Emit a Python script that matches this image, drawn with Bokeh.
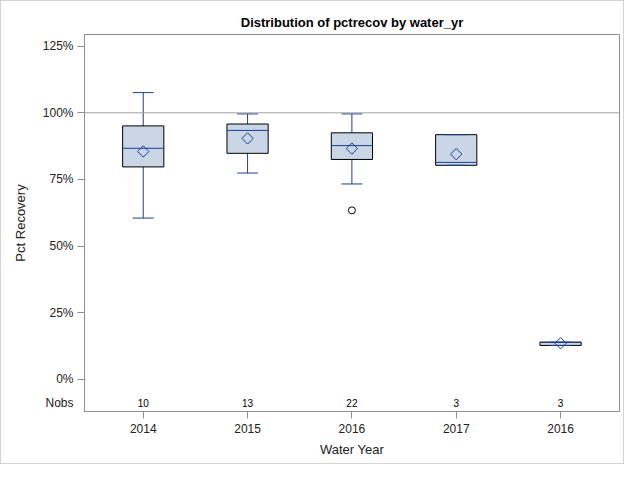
from bokeh.plotting import figure
from bokeh.models import (FixedTicker, Span, ColumnDataSource, PrintfTickFormatter,
                          Range1d, LinearAxis)
from bokeh.core.properties import value
from bokeh.embed import file_html
from bokeh.resources import INLINE
import numpy as np

# ---- data ----
positions = [1, 2, 3, 4, 5]
year_labels = ["2014", "2015", "2016", "2017", "2016"]
nobs = [10, 13, 22, 3, 3]
whisker_low = [60.5, 77.4, 73.3, 80.3, 12.7]
q1 = [79.7, 84.8, 82.5, 80.3, 12.7]
median = [86.7, 93.4, 87.7, 81.4, 13.9]
q3 = [95.1, 95.8, 92.5, 91.8, 13.9]
whisker_high = [107.6, 99.6, 99.6, 91.8, 13.9]
mean = [85.5, 90.4, 86.6, 84.5, 13.5]
outlier_x = [3]
outlier_y = [63.4]
y_ticks = [0, 25, 50, 75, 100, 125]
ref_value = 100

# ---- style ----
FONT = "Liberation Sans"
BOX_FILL = "#CAD5E5"
BLUE = "#1A3F96"
FRAME = "#8f8f8f"
TXT = "#222222"
BOX_W = 0.395
NOBS_Y = -9

pos = np.array(positions, dtype=float)
src = ColumnDataSource(dict(
    x=pos, x0=pos - BOX_W / 2, x1=pos + BOX_W / 2,
    q1=q1, q3=q3, med=median, lo=whisker_low, hi=whisker_high, mean=mean,
    nobs_txt=[str(n) for n in nobs], ny=[NOBS_Y] * len(nobs),
))

p = figure(width=622, height=462, output_backend="svg", toolbar_location=None,
           x_range=Range1d(0.437, 5.565), y_range=Range1d(-12.1, 129.4),
           frame_width=535, frame_height=377, y_axis_location=None,
           min_border_left=83, min_border_right=4, min_border_top=33, min_border_bottom=52,
           title="Distribution of pctrecov by water_yr")
p.title.align = "center"
p.title.text_font = FONT
p.title.text_font_size = "13px"
p.title.text_font_style = "bold"
p.title.text_color = "#000000"

p.xgrid.visible = False
p.ygrid.visible = False
p.outline_line_color = FRAME
p.outline_line_width = 1
p.background_fill_color = "white"
p.border_fill_color = "white"
p.styles = {"border": "1px solid #d4d4d4"}

# x axis
xa = p.xaxis[0]
xa.ticker = FixedTicker(ticks=positions)
xa.major_label_overrides = {k: v for k, v in zip(positions, year_labels)}
xa.axis_label = "Water Year"

# y axis: tick marks only (closest to frame)
ya_ticks = LinearAxis(ticker=FixedTicker(ticks=y_ticks),
                      major_label_overrides={t: "" for t in y_ticks})
ya_ticks.major_label_standoff = 0
# y axis: labels (incl. Nobs row) without tick marks
ya_lab = LinearAxis(ticker=FixedTicker(ticks=[NOBS_Y] + y_ticks),
                    formatter=PrintfTickFormatter(format="%d%%"),
                    major_label_overrides={NOBS_Y: "Nobs"},
                    axis_label="Pct Recovery")
ya_lab.major_tick_line_color = None
ya_lab.major_tick_out = 0
ya_lab.major_tick_in = 0
ya_lab.axis_line_color = None
ya_lab.major_label_standoff = 4
ya_lab.axis_label_standoff = 12
p.add_layout(ya_ticks, "left")
p.add_layout(ya_lab, "left")

for ax in (xa, ya_ticks, ya_lab):
    if ax is not ya_lab:
        ax.axis_line_color = FRAME
        ax.major_tick_line_color = FRAME
        ax.major_tick_in = 0
        ax.major_tick_out = 7
    ax.minor_tick_line_color = None
    ax.major_label_text_font = FONT
    ax.major_label_text_font_size = "12px"
    ax.major_label_text_color = TXT
    ax.axis_label_text_font = FONT
    ax.axis_label_text_font_size = "13px"
    ax.axis_label_text_font_style = "normal"
    ax.axis_label_text_color = TXT
xa.major_label_standoff = 5
xa.axis_label_standoff = 6

# reference line
p.add_layout(Span(location=ref_value, dimension="width", line_color="#a0a0a0", line_width=1))

# whiskers
p.segment(x0="x", y0="q3", x1="x", y1="hi", source=src, line_color=BLUE, line_width=1)
p.segment(x0="x", y0="lo", x1="x", y1="q1", source=src, line_color=BLUE, line_width=1)
# boxes
p.vbar(x="x", width=BOX_W, bottom="q1", top="q3", source=src,
       fill_color=BOX_FILL, line_color="black", line_width=1)
# caps
p.scatter(x="x", y="hi", source=src, marker="dash", size=21, line_color=BLUE, line_width=1)
p.scatter(x="x", y="lo", source=src, marker="dash", size=21, line_color=BLUE, line_width=1)
# medians
p.segment(x0="x0", y0="med", x1="x1", y1="med", source=src, line_color=BLUE, line_width=1)
# means
p.scatter(x="x", y="mean", source=src, marker="square", angle=np.pi / 4, size=8,
          fill_color=None, line_color=BLUE, line_width=1)
# outliers
p.scatter(x=outlier_x, y=outlier_y, marker="circle", size=7,
          fill_color=None, line_color="black", line_width=1)

# Nobs row
p.text(x="x", y="ny", text="nobs_txt", source=src, text_align="center", text_baseline="middle",
       text_font=value(FONT), text_font_size="10px", text_color="#000000")

open("out.html", "w").write(file_html(p, INLINE))
